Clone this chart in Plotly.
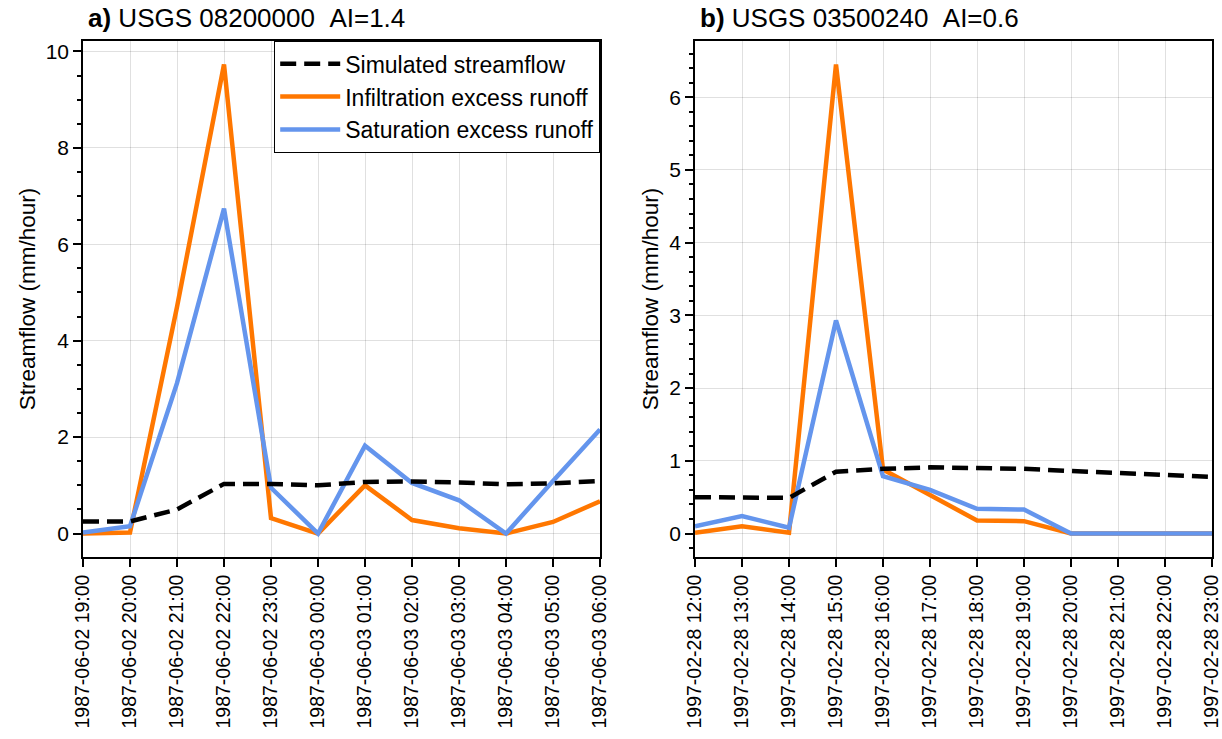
import plotly.graph_objects as go
import pandas as pd

# Panel a: USGS 08200000, hourly, 1987-06-02 19:00 to 1987-06-03 06:00
times_a = pd.date_range("1987-06-02 19:00", "1987-06-03 06:00", freq="h")
sim_a = [0.25, 0.25, 0.50, 1.03, 1.03, 1.00, 1.07, 1.08, 1.06, 1.02, 1.04, 1.09]
infil_a = [0.0, 0.02, 4.7, 9.73, 0.32, 0.0, 1.0, 0.28, 0.11, 0.0, 0.24, 0.67]
satur_a = [0.02, 0.15, 3.12, 6.74, 0.95, 0.0, 1.82, 1.05, 0.69, 0.0, 1.09, 2.16]

# Panel b: USGS 03500240, hourly, 1997-02-28 12:00 to 23:00
times_b = pd.date_range("1997-02-28 12:00", "1997-02-28 23:00", freq="h")
sim_b = [0.50, 0.50, 0.49, 0.85, 0.89, 0.91, 0.90, 0.89, 0.86, 0.83, 0.80, 0.78]
infil_b = [0.01, 0.10, 0.01, 6.45, 0.88, 0.53, 0.18, 0.17, 0.0, 0.0, 0.0, 0.0]
satur_b = [0.10, 0.24, 0.08, 2.93, 0.79, 0.60, 0.34, 0.33, 0.0, 0.0, 0.0, 0.0]

series_names = ["Simulated streamflow", "Infiltration excess runoff", "Saturation excess runoff"]
titles = ["<b>a)</b> USGS 08200000\u00a0\u00a0AI=1.4", "<b>b)</b> USGS 03500240\u00a0\u00a0AI=0.6"]

ORANGE = "#ff7700"
BLUE = "#6495ed"
FONT = "Liberation Sans, Arial, sans-serif"

fig = go.Figure()


def add_panel(times, sim, infil, satur, xa, ya, show_legend):
    styles = [
        dict(color="black", width=4.5, dash="16px,8px"),
        dict(color=ORANGE, width=4.5),
        dict(color=BLUE, width=4.5),
    ]
    # draw order: orange, blue, then dashed black on top
    for idx in (1, 2, 0):
        vals = (sim, infil, satur)[idx]
        fig.add_trace(go.Scatter(
            x=times, y=vals, mode="lines", name=series_names[idx],
            line=styles[idx], xaxis=xa, yaxis=ya,
            showlegend=show_legend, legendgroup=f"g{idx}",
            legendrank=idx + 1,
        ))


add_panel(times_a, sim_a, infil_a, satur_a, "x", "y", True)
add_panel(times_b, sim_b, infil_b, satur_b, "x2", "y2", False)


def padded(vals_list):
    lo = min(min(v) for v in vals_list)
    hi = max(max(v) for v in vals_list)
    pad = 0.05 * (hi - lo)
    return [lo - pad, hi + pad]


grid_col = "rgba(0,0,0,0.12)"
common_x = dict(
    showline=True, linecolor="black", linewidth=1.5, mirror=True,
    ticks="outside", ticklen=8, tickwidth=1.5, tickcolor="black",
    tickangle=-90, tickformat="%Y-%m-%d %H:%M", dtick=3600000,
    showgrid=True, gridcolor=grid_col, gridwidth=1, automargin=False,
    ticklabeloverflow="allow",
    tickfont=dict(family=FONT, size=19.5, color="black"), zeroline=False,
)
common_y = dict(
    showline=True, linecolor="black", linewidth=1.5, mirror=True,
    ticks="outside", ticklen=8, tickwidth=1.5, tickcolor="black",
    showgrid=True, gridcolor=grid_col, gridwidth=1, zeroline=False, automargin=False,
    tickfont=dict(family=FONT, size=21, color="black"),
    title=dict(text="Streamflow (mm/hour)", font=dict(family=FONT, size=22.5, color="black"), standoff=4),
)

W, H = 1222, 739
top, bottom = 41, 557
ydom = [1 - bottom / H, 1 - top / H]
xdom_a = [83 / W, 600 / W]
xdom_b = [695 / W, 1212 / W]

fig.update_layout(
    width=W, height=H,
    margin=dict(l=0, r=0, t=0, b=0, autoexpand=False),
    paper_bgcolor="white", plot_bgcolor="white",
    font=dict(family=FONT, color="black"),
    xaxis=dict(common_x, domain=xdom_a, anchor="y", range=[times_a[0], times_a[-1]]),
    yaxis=dict(common_y, domain=ydom, anchor="x", range=padded([sim_a, infil_a, satur_a]),
               dtick=2, tick0=0,
               minor=dict(dtick=0.5, ticks="outside", ticklen=4, tickcolor="black", showgrid=False)),
    xaxis2=dict(common_x, domain=xdom_b, anchor="y2", range=[times_b[0], times_b[-1]]),
    yaxis2=dict(common_y, domain=ydom, anchor="x2", range=padded([sim_b, infil_b, satur_b]),
                dtick=1, tick0=0,
                minor=dict(dtick=0.2, ticks="outside", ticklen=4, tickcolor="black", showgrid=False)),
    legend=dict(
        x=xdom_a[1], xanchor="right", y=ydom[1], yanchor="top",
        bordercolor="black", borderwidth=1.2, bgcolor="white",
        font=dict(family=FONT, size=23, color="black"),
        traceorder="grouped", tracegroupgap=0, itemwidth=60,
    ),
    showlegend=True,
)

for title, xd in zip(titles, (xdom_a, xdom_b)):
    fig.add_annotation(
        text=title, xref="paper", yref="paper", x=xd[0] + 3 / W, y=1 - 18 / H,
        xanchor="left", yanchor="middle", showarrow=False,
        font=dict(family=FONT, size=26, color="black"),
    )

fig.write_html("out.html")
